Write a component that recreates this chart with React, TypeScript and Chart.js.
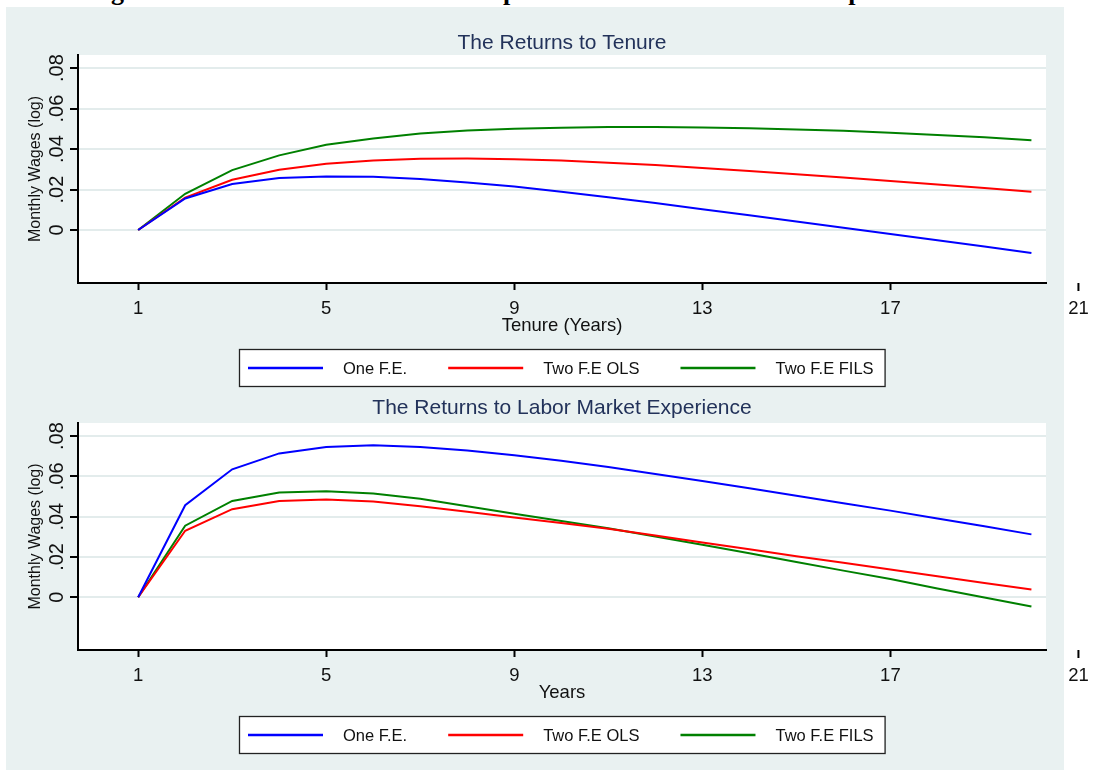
import React, { useEffect, useRef } from 'react';
import { Chart, registerables } from 'chart.js';

Chart.register(...registerables);

// ---------- data ----------
const YEARS = [1, 2, 3, 4, 5, 6, 7, 8, 9, 10, 11, 12, 13, 14, 15, 16, 17, 18, 19, 20];
const X_TICKS = [1, 5, 9, 13, 17];
const X_TICK_LABELS = ['1', '5', '9', '13', '17'];
const X_EXTRA_TICK = 21;
const Y_TICKS = [0, 0.02, 0.04, 0.06, 0.08];
const Y_TICK_LABELS = ['0', '.02', '.04', '.06', '.08'];
const SERIES_NAMES = ['One F.E.', 'Two F.E OLS', 'Two F.E FILS'];
const SERIES_COLORS = ['#0000ff', '#ff0000', '#008000'];

const TENURE_ONE_FE = [0, 0.0156, 0.0227, 0.0257, 0.0265, 0.0263, 0.0252, 0.0235, 0.0215, 0.0189, 0.0162, 0.0133, 0.0103, 0.0073, 0.0042, 0.0011, -0.0020, -0.0051, -0.0082, -0.0114];
const TENURE_TWO_FE_OLS = [0, 0.0160, 0.0248, 0.0298, 0.0328, 0.0343, 0.0352, 0.0353, 0.0350, 0.0343, 0.0333, 0.0321, 0.0307, 0.0292, 0.0276, 0.0259, 0.0242, 0.0225, 0.0207, 0.0189];
const TENURE_TWO_FE_FILS = [0, 0.0179, 0.0296, 0.0369, 0.0421, 0.0452, 0.0477, 0.0492, 0.0500, 0.0506, 0.0509, 0.0509, 0.0507, 0.0503, 0.0497, 0.0490, 0.0481, 0.0470, 0.0458, 0.0444];

const EXPER_ONE_FE = [0, 0.0457, 0.0635, 0.0714, 0.0746, 0.0754, 0.0746, 0.0729, 0.0705, 0.0678, 0.0646, 0.0612, 0.0577, 0.0541, 0.0504, 0.0467, 0.0430, 0.0391, 0.0352, 0.0312];
const EXPER_TWO_FE_OLS = [0, 0.0330, 0.0437, 0.0478, 0.0485, 0.0475, 0.0452, 0.0424, 0.0396, 0.0368, 0.0340, 0.0307, 0.0272, 0.0238, 0.0204, 0.0171, 0.0138, 0.0104, 0.0071, 0.0038];
const EXPER_TWO_FE_FILS = [0, 0.0355, 0.0478, 0.0520, 0.0526, 0.0515, 0.0489, 0.0452, 0.0415, 0.0378, 0.0342, 0.0302, 0.0260, 0.0218, 0.0175, 0.0132, 0.0090, 0.0043, -0.0001, -0.0046];

const PAGE_TITLE = 'Figure 1: The Estimated Returns to Specific and General Human Capital';
const TOP_TITLE = 'The Returns to Tenure';
const TOP_X_TITLE = 'Tenure (Years)';
const BOTTOM_TITLE = 'The Returns to Labor Market Experience';
const BOTTOM_X_TITLE = 'Years';
const Y_TITLE = 'Monthly Wages (log)';

// ---------- styling ----------
const FONT = '"Liberation Sans", Arial, Helvetica, sans-serif';
const BG = '#e9f1f1';
const GRID = '#e3ecec';
const TITLE_COLOR = '#22325a';
const X_MIN = -0.28;
const X_MAX = 20.31;
const Y_MIN = -0.0262;
const Y_MAX = 0.0865;

type PanelProps = {
  top: number;
  height: number;
  padTop: number;
  padBottom: number;
  titleGap: number;
  title: string;
  xTitle: string;
  series: number[][];
};

function Panel({ top, height, padTop, padBottom, titleGap, title, xTitle, series }: PanelProps) {
  const ref = useRef<HTMLCanvasElement | null>(null);

  useEffect(() => {
    const canvas = ref.current;
    if (!canvas) return;

    const decor = {
      id: 'decor',
      beforeDraw(chart: any) {
        const { ctx, chartArea: a } = chart;
        ctx.save();
        ctx.fillStyle = '#ffffff';
        ctx.fillRect(a.left, a.top, a.right - a.left, a.bottom - a.top);
        ctx.restore();
      },
      afterDraw(chart: any) {
        const { ctx, chartArea: a } = chart;
        const xs = chart.scales.x;
        const ys = chart.scales.y;
        const cx = (a.left + a.right) / 2;
        ctx.save();
        ctx.textBaseline = 'alphabetic';

        // panel title
        ctx.fillStyle = TITLE_COLOR;
        ctx.font = `21px ${FONT}`;
        ctx.textAlign = 'center';
        ctx.fillText(title, cx, a.top - titleGap);

        // y tick labels (rotated)
        ctx.fillStyle = '#111';
        ctx.font = `20px ${FONT}`;
        Y_TICKS.forEach((v, i) => {
          const py = ys.getPixelForValue(v);
          ctx.save();
          ctx.translate(a.left - 14.7, py);
          ctx.rotate(-Math.PI / 2);
          ctx.fillText(Y_TICK_LABELS[i], 0, 0);
          ctx.restore();
        });

        // y title
        ctx.font = `16px ${FONT}`;
        ctx.save();
        ctx.translate(a.left - 38.4, (a.top + a.bottom) / 2);
        ctx.rotate(-Math.PI / 2);
        ctx.fillText(Y_TITLE, 0, 0);
        ctx.restore();

        // x tick labels
        ctx.font = `18.5px ${FONT}`;
        X_TICKS.forEach((v, i) => {
          ctx.fillText(X_TICK_LABELS[i], xs.getPixelForValue(v), a.bottom + 31);
        });

        // extra tick beyond the plot region
        const px = xs.getPixelForValue(X_EXTRA_TICK);
        ctx.strokeStyle = '#000';
        ctx.lineWidth = 2;
        ctx.beginPath();
        ctx.moveTo(px, a.bottom);
        ctx.lineTo(px, a.bottom + 8);
        ctx.stroke();
        ctx.fillText(String(X_EXTRA_TICK), px, a.bottom + 31);

        // x title
        ctx.fillText(xTitle, cx, a.bottom + 48);

        // legend
        ctx.font = `16.5px ${FONT}`;
        const ds = chart.data.datasets;
        const lineLen = 75;
        const gapText = 20;
        const gapItem = 41;
        const widths = ds.map((d: any) => ctx.measureText(d.label).width);
        let total = 9;
        widths.forEach((w: number, i: number) => {
          total += lineLen + gapText + w + (i < widths.length - 1 ? gapItem : 0);
        });
        total += 11;
        const boxLeft = Math.round(cx - total / 2);
        const boxTop = a.bottom + 66;
        const boxBottom = a.bottom + 103;
        ctx.fillStyle = '#ffffff';
        ctx.fillRect(boxLeft, boxTop, total, boxBottom - boxTop);
        ctx.strokeStyle = '#222';
        ctx.lineWidth = 1.3;
        ctx.strokeRect(boxLeft + 0.5, boxTop + 0.5, total, boxBottom - boxTop);
        const ly = (boxTop + boxBottom) / 2 + 0.5;
        let x = boxLeft + 9;
        ds.forEach((d: any, i: number) => {
          ctx.strokeStyle = d.borderColor;
          ctx.lineWidth = 2.5;
          ctx.beginPath();
          ctx.moveTo(x, ly);
          ctx.lineTo(x + lineLen, ly);
          ctx.stroke();
          ctx.fillStyle = '#111';
          ctx.textAlign = 'left';
          ctx.fillText(d.label, x + lineLen + gapText, ly + 6);
          x += lineLen + gapText + widths[i] + gapItem;
        });

        ctx.restore();
      },
    };

    const chart = new Chart(canvas, {
      type: 'line',
      data: {
        datasets: series.map((vals, i) => ({
          label: SERIES_NAMES[i],
          data: YEARS.map((t, j) => ({ x: t, y: vals[j] })),
          borderColor: SERIES_COLORS[i],
          backgroundColor: SERIES_COLORS[i],
          borderWidth: 2,
          pointRadius: 0,
          tension: 0,
          fill: false,
        })),
      },
      options: {
        animation: false,
        responsive: false,
        maintainAspectRatio: false,
        events: [],
        layout: { padding: { left: 70, right: 50, top: padTop, bottom: padBottom } },
        plugins: {
          legend: { display: false },
          title: { display: false },
          tooltip: { enabled: false },
        },
        scales: {
          x: {
            type: 'linear',
            min: X_MIN,
            max: X_MAX,
            afterBuildTicks: (s: any) => {
              s.ticks = X_TICKS.map((v) => ({ value: v }));
            },
            afterFit: (s: any) => {
              s.height = 8;
            },
            ticks: { display: false },
            grid: {
              drawOnChartArea: false,
              drawTicks: true,
              tickLength: 7,
              tickColor: '#000',
              tickWidth: 2,
            },
            border: { display: true, color: '#000', width: 2 },
          },
          y: {
            type: 'linear',
            min: Y_MIN,
            max: Y_MAX,
            afterBuildTicks: (s: any) => {
              s.ticks = Y_TICKS.map((v) => ({ value: v }));
            },
            afterFit: (s: any) => {
              s.width = 8;
            },
            ticks: { display: false },
            grid: {
              color: GRID,
              lineWidth: 2,
              drawTicks: true,
              tickLength: 8,
              tickColor: '#000',
              tickWidth: 2,
            },
            border: { display: true, color: '#000', width: 2 },
          },
        },
      },
      plugins: [decor],
    } as any);

    return () => chart.destroy();
  }, [top, height, padTop, padBottom, titleGap, title, xTitle, series]);

  return (
    <canvas
      ref={ref}
      width={1096}
      height={height}
      style={{ position: 'absolute', left: 0, top, width: 1096, height }}
    />
  );
}

export default function App() {
  return (
    <div
      style={{
        position: 'absolute',
        left: 0,
        top: 0,
        width: 1096,
        height: 771,
        background: '#ffffff',
        overflow: 'hidden',
      }}
    >
      <div
        style={{
          position: 'absolute',
          left: 6,
          top: 7,
          width: 1058,
          height: 763,
          background: BG,
        }}
      />
      <div
        style={{
          position: 'absolute',
          left: 88,
          top: -21,
          fontFamily: '"Liberation Serif", "Times New Roman", serif',
          fontWeight: 'bold',
          fontSize: 26,
          lineHeight: '26px',
          whiteSpace: 'nowrap',
          color: '#000',
        }}
      >
        {PAGE_TITLE}
      </div>
      <Panel
        top={0}
        height={395}
        padTop={55}
        padBottom={104}
        titleGap={6.5}
        title={TOP_TITLE}
        xTitle={TOP_X_TITLE}
        series={[TENURE_ONE_FE, TENURE_TWO_FE_OLS, TENURE_TWO_FE_FILS]}
      />
      <Panel
        top={395}
        height={376}
        padTop={28}
        padBottom={113}
        titleGap={9.5}
        title={BOTTOM_TITLE}
        xTitle={BOTTOM_X_TITLE}
        series={[EXPER_ONE_FE, EXPER_TWO_FE_OLS, EXPER_TWO_FE_FILS]}
      />
    </div>
  );
}
